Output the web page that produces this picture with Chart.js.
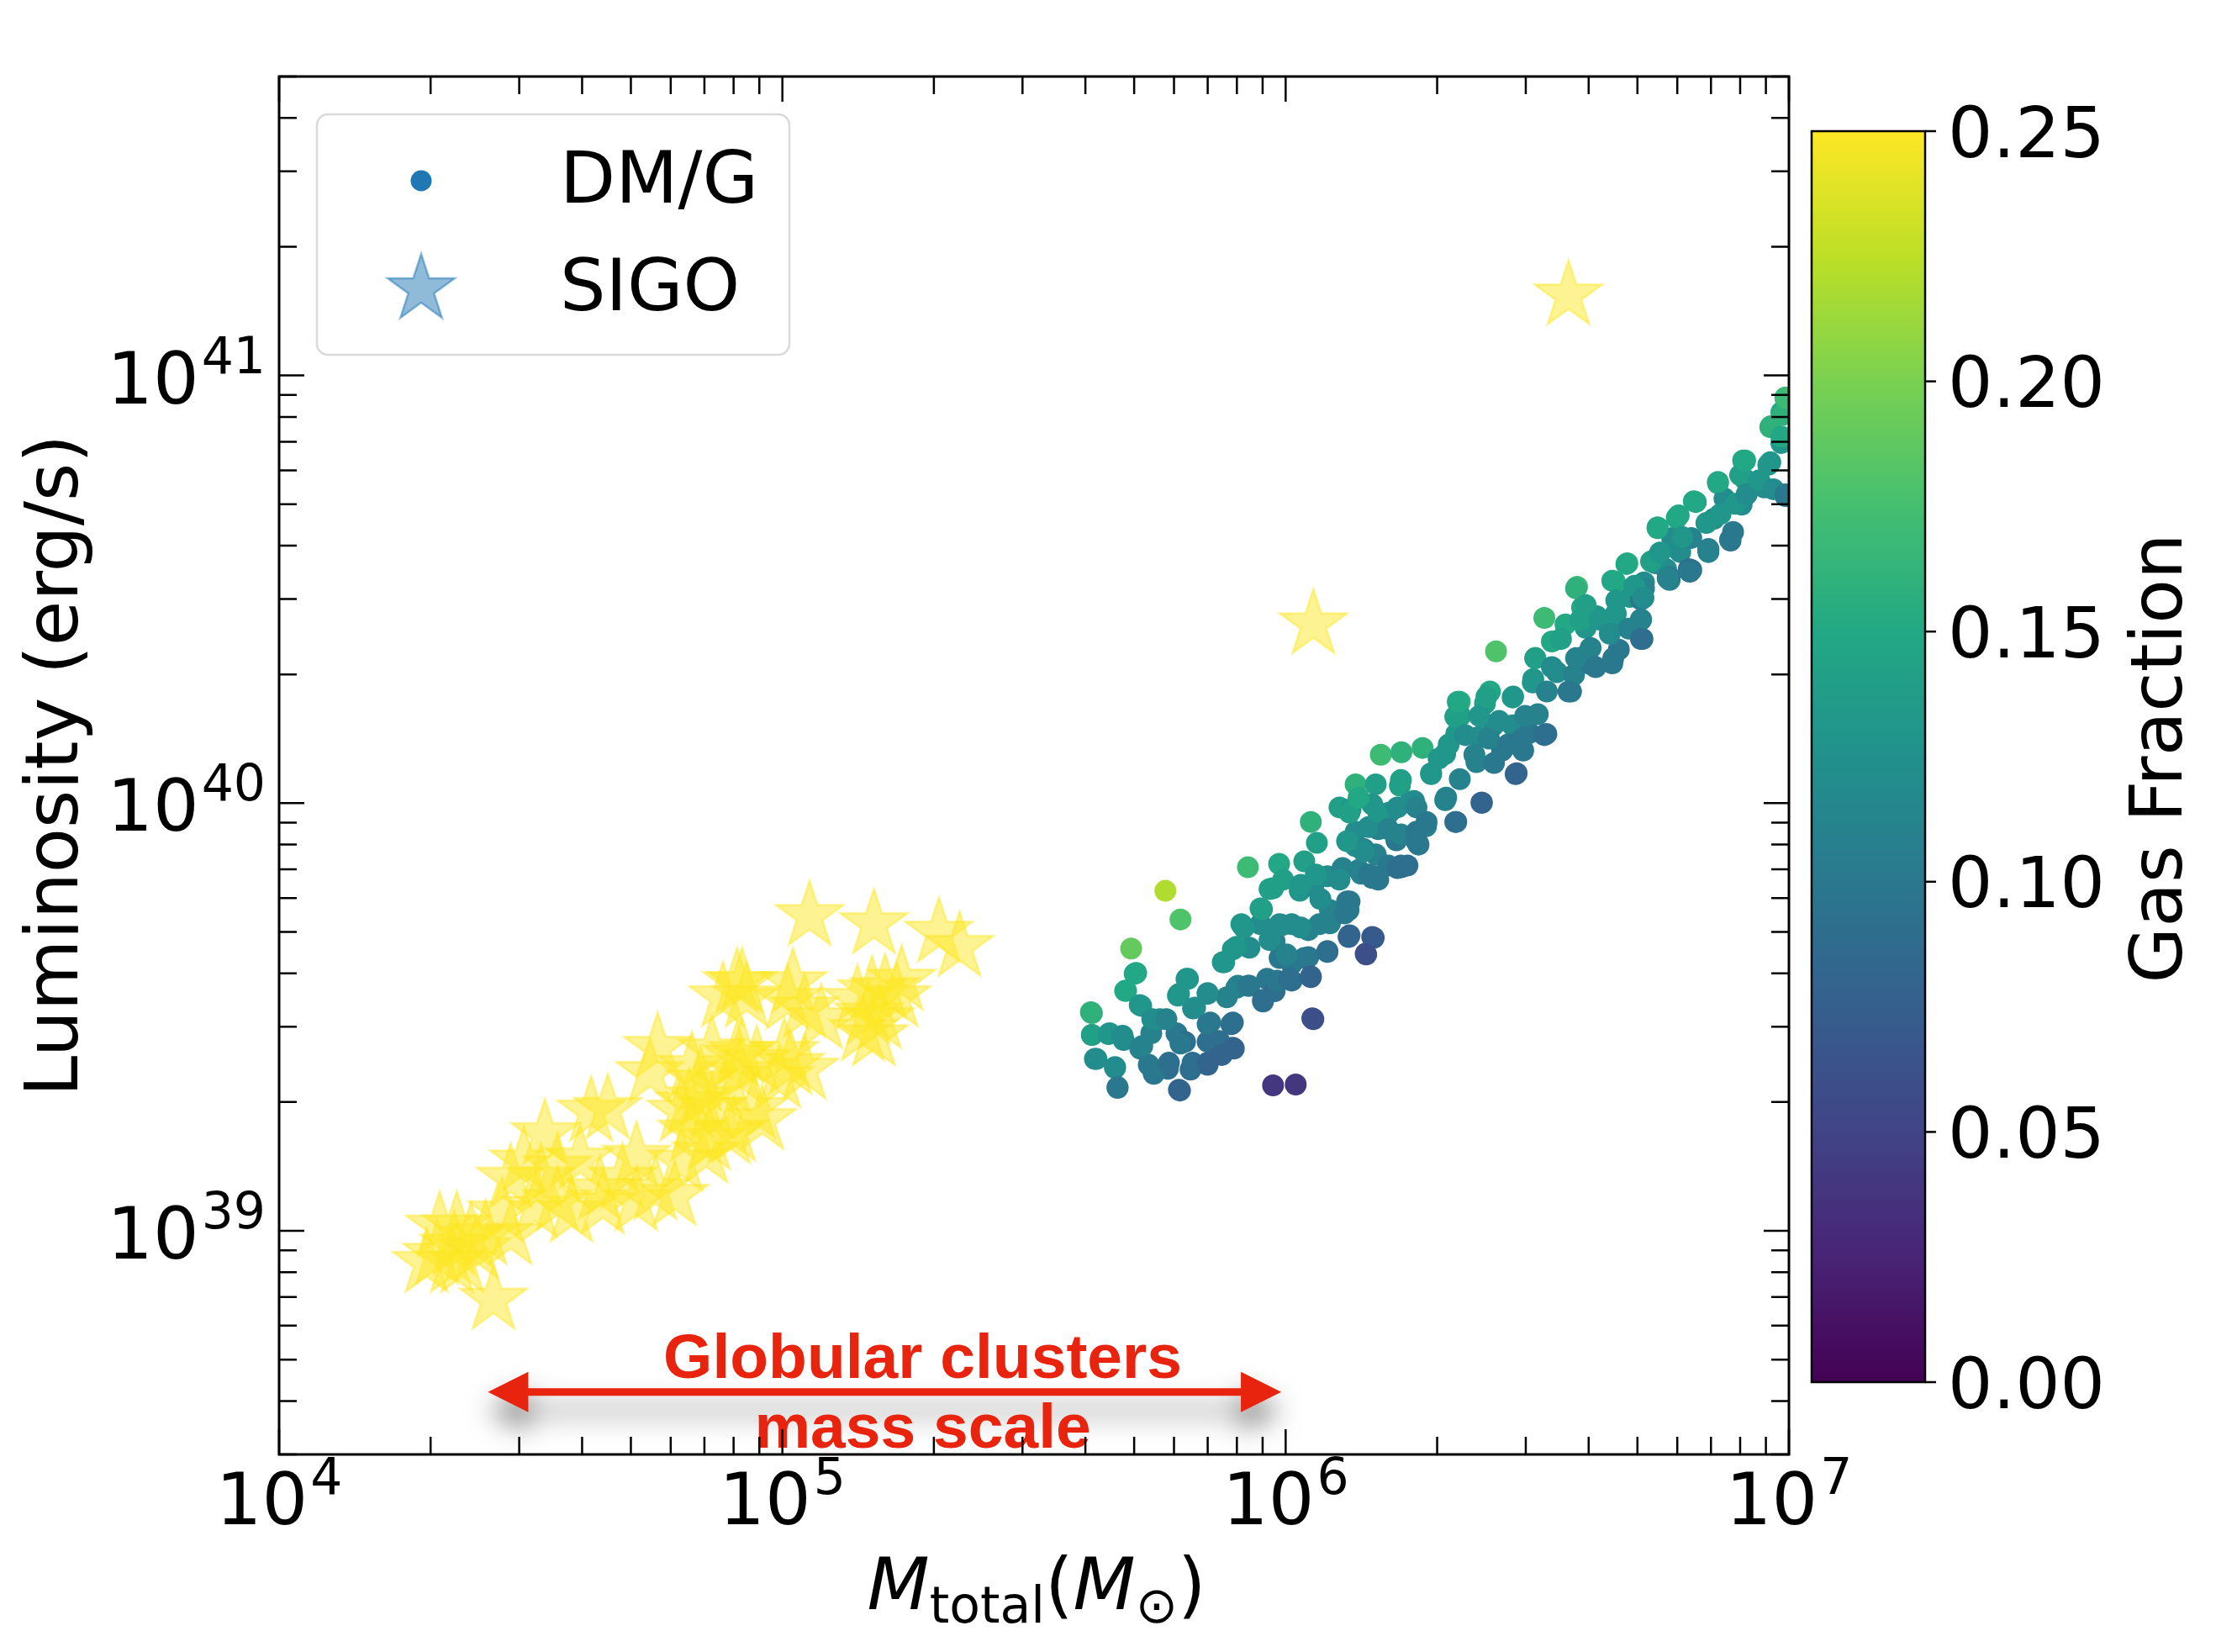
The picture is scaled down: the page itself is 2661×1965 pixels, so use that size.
<!DOCTYPE html>
<html>
<head>
<meta charset="utf-8">
<script src="https://cdn.jsdelivr.net/npm/chart.js@4/dist/chart.umd.min.js"></script>
<style>
  html, body { margin: 0; padding: 0; background: #fff; }
  #wrap { width: 2661px; height: 1965px; position: relative; }
</style>
</head>
<body>
<div id="wrap"><canvas id="chart"></canvas></div>
<script>
// DM/G halos: log10 of M_total, log10 of L, gas fraction
const dmgLogMass = [
  5.761, 5.791, 5.693, 5.925, 5.613, 5.703, 5.683, 5.713, 5.615, 5.650,
  5.678, 5.621, 5.661, 5.666, 5.711, 5.733, 5.750, 5.728, 5.738, 5.766,
  5.788, 5.783, 5.800, 5.811, 5.845, 5.788, 5.803, 5.816, 5.845, 5.850,
  5.845, 5.883, 5.895, 5.895, 5.870, 5.905, 5.928, 5.955, 5.963, 5.978,
  5.875, 5.895, 5.912, 5.928, 5.950, 5.953, 5.975, 5.987, 5.995, 5.978,
  5.988, 6.012, 5.988, 6.012, 6.037, 6.012, 6.050, 6.053, 5.975, 6.020,
  6.028, 6.037, 6.055, 6.045, 6.067, 6.083, 6.088, 6.083, 6.122, 6.125,
  6.125, 6.172, 6.159, 6.113, 6.150, 6.172, 6.179, 6.139, 6.230, 6.264,
  6.220, 6.062, 6.050, 6.107, 6.189, 6.230, 6.272, 6.139, 6.179, 6.229,
  6.129, 6.172, 6.206, 6.255, 6.139, 6.184, 6.229, 6.279, 6.262, 6.155,
  6.179, 6.229, 6.289, 6.317, 6.339, 6.389, 6.459, 6.346, 6.317, 6.339,
  6.337, 6.346, 6.384, 6.379, 6.396, 6.406, 6.413, 6.430, 6.418, 6.451,
  6.451, 6.472, 6.484, 6.501, 6.518, 6.492, 6.496, 6.514, 6.529, 6.539,
  6.556, 6.567, 6.573, 6.579, 6.589, 6.596, 6.596, 6.606, 6.618, 6.646,
  6.651, 6.662, 6.654, 6.656, 6.679, 6.684, 6.706, 6.709, 6.712, 6.734,
  6.756, 6.763, 6.806, 6.784, 6.840, 6.739, 6.781, 6.815, 6.859, 6.909,
  6.963, 6.993, 6.985, 6.963, 6.951, 6.993, 6.985, 6.913, 6.906, 6.872,
  6.889, 6.884, 6.851, 6.840, 6.806, 6.801, 6.768, 6.763, 6.734, 6.712,
  6.706,
  5.615, 5.615, 5.624, 5.648, 5.661, 5.666, 5.681, 5.676, 5.700, 5.710,
  5.715, 5.735, 5.738, 5.763, 5.768, 5.786, 5.791, 5.790, 5.806, 5.815,
  5.820, 5.845, 5.845, 5.845, 5.868, 5.873, 5.878, 5.892, 5.897, 5.902,
  5.902, 5.917, 5.925, 5.950, 5.955, 5.968, 5.968, 5.983, 5.993, 6.002,
  6.007, 6.030, 6.030, 6.045, 6.050, 6.055, 6.060, 6.069, 6.083, 6.088,
  6.107, 6.117, 6.127, 6.127, 6.145, 6.155, 6.165, 6.175, 6.160, 6.184,
  6.204, 6.222, 6.242, 6.127, 6.122, 6.145, 6.165, 6.184, 6.204, 6.222,
  6.227, 6.247, 6.260, 6.260, 6.280, 6.260, 6.289, 6.304, 6.319, 6.324,
  6.337, 6.347, 6.342, 6.357, 6.375, 6.385, 6.390, 6.399, 6.404, 6.414,
  6.424, 6.442, 6.452, 6.457, 6.471, 6.476, 6.491, 6.496, 6.514, 6.519,
  6.529, 6.547, 6.562, 6.577, 6.577, 6.586, 6.596, 6.606, 6.616, 6.624,
  6.644, 6.649, 6.649, 6.657, 6.677, 6.682, 6.693, 6.706, 6.711, 6.706,
  6.726, 6.739, 6.744, 6.759, 6.777, 6.788, 6.803, 6.811, 6.836, 6.840,
  6.859, 6.864, 6.883, 6.893, 6.903, 6.913, 6.916, 6.941, 6.959, 6.964,
  6.985, 6.969, 6.993, 6.988, 6.993
];
const dmgLogLum = [
  39.795, 39.728, 39.660, 39.850, 39.511, 39.603, 39.561, 39.526, 39.458, 39.462,
  39.446, 39.402, 39.383, 39.334, 39.426, 39.462, 39.495, 39.388, 39.367, 39.379,
  39.330, 39.462, 39.442, 39.377, 39.388, 39.554, 39.589, 39.520, 39.554, 39.487,
  39.442, 39.546, 39.487, 39.428, 39.416, 39.573, 39.573, 39.536, 39.589, 39.560,
  39.628, 39.658, 39.717, 39.662, 39.717, 39.752, 39.801, 39.858, 39.821, 39.677,
  39.717, 39.717, 39.638, 39.624, 39.638, 39.585, 39.593, 39.497, 39.340, 39.342,
  39.795, 39.864, 39.805, 39.703, 39.717, 39.654, 39.750, 39.829, 39.770, 39.687,
  39.750, 39.687, 39.648, 39.848, 39.835, 39.825, 39.880, 39.899, 39.850, 39.903,
  39.913, 39.907, 39.956, 39.990, 40.113, 40.119, 40.129, 40.044, 40.044, 40.054,
  39.986, 39.997, 39.978, 40.005, 39.933, 39.939, 39.927, 39.946, 39.907, 39.893,
  39.829, 39.854, 40.070, 40.007, 39.956, 40.001, 40.070, 40.056, 40.115, 40.162,
  40.202, 40.237, 40.155, 40.096, 40.233, 40.261, 40.182, 40.123, 40.355, 40.247,
  40.182, 40.123, 40.164, 40.208, 40.162, 40.290, 40.339, 40.433, 40.378, 40.306,
  40.418, 40.261, 40.300, 40.506, 40.457, 40.410, 40.345, 40.325, 40.437, 40.404,
  40.339, 40.359, 40.518, 40.443, 40.561, 40.482, 40.429, 40.384, 40.516, 40.567,
  40.547, 40.522, 40.545, 40.587, 40.587, 40.645, 40.673, 40.704, 40.748, 40.801,
  40.879, 40.948, 40.914, 40.797, 40.738, 40.718, 40.842, 40.757, 40.698, 40.712,
  40.634, 40.614, 40.665, 40.594, 40.620, 40.547, 40.620, 40.528, 40.561, 40.502,
  40.476,
  39.509, 39.458, 39.402, 39.460, 39.381, 39.336, 39.561, 39.456, 39.601, 39.528,
  39.432, 39.495, 39.369, 39.495, 39.393, 39.550, 39.438, 39.328, 39.589, 39.393,
  39.522, 39.556, 39.483, 39.393, 39.444, 39.411, 39.628, 39.483, 39.426, 39.664,
  39.568, 39.709, 39.573, 39.754, 39.540, 39.799, 39.680, 39.585, 39.715, 39.646,
  39.589, 39.809, 39.709, 39.640, 39.595, 39.495, 39.833, 39.776, 39.652, 39.719,
  39.821, 39.742, 39.691, 39.770, 39.844, 39.887, 39.833, 39.685, 39.646, 39.821,
  39.854, 39.848, 39.854, 39.978, 39.911, 40.013, 39.944, 39.978, 39.939, 39.990,
  40.041, 40.001, 39.933, 39.990, 39.956, 39.911, 40.068, 40.104, 40.013, 40.137,
  39.956, 40.204, 40.237, 40.159, 40.113, 40.204, 40.001, 40.249, 40.151, 40.094,
  40.192, 40.137, 40.249, 40.068, 40.151, 40.204, 40.282, 40.339, 40.159, 40.261,
  40.318, 40.384, 40.261, 40.502, 40.339, 40.429, 40.463, 40.363, 40.318, 40.429,
  40.396, 40.520, 40.327, 40.474, 40.559, 40.408, 40.508, 40.429, 40.480, 40.384,
  40.565, 40.643, 40.586, 40.526, 40.667, 40.622, 40.541, 40.706, 40.655, 40.592,
  40.751, 40.676, 40.616, 40.700, 40.767, 40.801, 40.722, 40.755, 40.791, 40.881,
  40.857, 40.734, 40.722, 40.908, 40.948
];
const dmgGas = [
  0.22, 0.18, 0.19, 0.17, 0.16, 0.15, 0.15, 0.13, 0.14, 0.13,
  0.12, 0.12, 0.12, 0.10, 0.11, 0.11, 0.12, 0.10, 0.10, 0.09,
  0.08, 0.10, 0.09, 0.09, 0.08, 0.13, 0.13, 0.12, 0.12, 0.10,
  0.09, 0.11, 0.09, 0.08, 0.08, 0.11, 0.10, 0.09, 0.10, 0.09,
  0.13, 0.13, 0.13, 0.12, 0.12, 0.14, 0.14, 0.15, 0.14, 0.11,
  0.12, 0.12, 0.10, 0.10, 0.10, 0.09, 0.08, 0.06, 0.04, 0.04,
  0.13, 0.14, 0.12, 0.11, 0.11, 0.09, 0.11, 0.12, 0.10, 0.08,
  0.10, 0.07, 0.06, 0.11, 0.11, 0.10, 0.11, 0.12, 0.09, 0.10,
  0.10, 0.14, 0.16, 0.14, 0.17, 0.16, 0.16, 0.16, 0.14, 0.14,
  0.13, 0.13, 0.12, 0.12, 0.12, 0.11, 0.11, 0.11, 0.10, 0.11,
  0.10, 0.09, 0.13, 0.11, 0.09, 0.08, 0.08, 0.11, 0.13, 0.13,
  0.14, 0.16, 0.12, 0.11, 0.14, 0.15, 0.12, 0.10, 0.18, 0.13,
  0.12, 0.10, 0.10, 0.11, 0.09, 0.13, 0.14, 0.17, 0.15, 0.12,
  0.15, 0.10, 0.11, 0.17, 0.15, 0.13, 0.11, 0.10, 0.13, 0.12,
  0.10, 0.10, 0.15, 0.13, 0.16, 0.13, 0.10, 0.09, 0.12, 0.13,
  0.12, 0.11, 0.10, 0.12, 0.11, 0.15, 0.15, 0.15, 0.15, 0.15,
  0.16, 0.17, 0.15, 0.13, 0.12, 0.09, 0.13, 0.13, 0.12, 0.12,
  0.10, 0.09, 0.12, 0.10, 0.11, 0.09, 0.12, 0.10, 0.12, 0.11,
  0.10,
  0.16, 0.14, 0.12, 0.13, 0.12, 0.10, 0.15, 0.12, 0.15, 0.13,
  0.11, 0.12, 0.10, 0.11, 0.09, 0.13, 0.10, 0.08, 0.13, 0.09,
  0.12, 0.12, 0.10, 0.08, 0.09, 0.08, 0.13, 0.09, 0.08, 0.13,
  0.11, 0.13, 0.10, 0.14, 0.09, 0.14, 0.12, 0.10, 0.12, 0.11,
  0.09, 0.13, 0.12, 0.10, 0.08, 0.06, 0.13, 0.12, 0.09, 0.11,
  0.12, 0.10, 0.08, 0.10, 0.11, 0.12, 0.10, 0.07, 0.06, 0.10,
  0.10, 0.09, 0.09, 0.14, 0.13, 0.15, 0.12, 0.13, 0.11, 0.12,
  0.14, 0.12, 0.10, 0.11, 0.10, 0.10, 0.13, 0.13, 0.11, 0.13,
  0.09, 0.14, 0.15, 0.12, 0.11, 0.13, 0.08, 0.14, 0.11, 0.10,
  0.12, 0.10, 0.13, 0.08, 0.10, 0.11, 0.13, 0.14, 0.09, 0.11,
  0.12, 0.14, 0.10, 0.16, 0.11, 0.14, 0.14, 0.11, 0.10, 0.13,
  0.12, 0.15, 0.10, 0.13, 0.15, 0.11, 0.13, 0.11, 0.12, 0.09,
  0.14, 0.15, 0.13, 0.11, 0.15, 0.13, 0.10, 0.15, 0.13, 0.11,
  0.15, 0.13, 0.10, 0.13, 0.14, 0.15, 0.12, 0.13, 0.13, 0.16,
  0.15, 0.12, 0.10, 0.16, 0.17
];

// SIGO objects (all at the top of the colour scale)
const sigoLogMass = [
  4.752, 4.620, 4.653, 4.528, 4.737, 4.820, 4.837, 4.799, 4.910, 4.915,
  4.882, 4.920, 4.854, 4.904, 4.710, 4.682, 4.748, 4.637, 4.598, 4.553,
  4.520, 4.486, 4.460, 4.510, 4.443, 4.553, 4.581, 4.643, 4.710, 4.319,
  4.353, 4.348, 4.314, 4.381, 4.364, 4.343, 4.293, 4.393, 4.426, 4.410,
  4.460,
  5.054, 5.182, 5.311, 5.352, 4.910, 4.929, 5.021, 5.010, 5.044, 5.077,
  5.149, 5.178, 5.204, 5.237, 5.227, 5.171, 5.194, 5.160, 5.182, 4.860,
  4.920, 4.949, 5.004, 5.016, 5.044, 4.994, 4.837, 4.894, 4.815, 4.860,
  4.944, 4.960, 4.820, 4.894, 4.849, 4.799, 4.786,
  6.055, 6.562
];
const sigoLogLum = [
  39.428, 39.279, 39.285, 39.226, 39.369, 39.383, 39.310, 39.279, 39.408, 39.369,
  39.546, 39.579, 39.212, 39.232, 39.173, 39.122, 39.095, 39.095, 39.167, 39.148,
  39.122, 39.162, 39.122, 39.054, 39.043, 39.069, 39.043, 39.062, 39.069, 39.010,
  39.010, 38.965, 38.944, 38.984, 38.925, 38.925, 38.925, 38.957, 38.839, 38.990,
  38.990,
  39.736, 39.717, 39.697, 39.664, 39.579, 39.546, 39.579, 39.540, 39.520, 39.495,
  39.540, 39.560, 39.565, 39.585, 39.546, 39.506, 39.495, 39.467, 39.455, 39.422,
  39.416, 39.397, 39.416, 39.388, 39.377, 39.357, 39.349, 39.344, 39.298, 39.285,
  39.285, 39.259, 39.232, 39.226, 39.181, 39.162, 39.082,
  40.418, 41.187
];

const xRange = [1e4, 1e7];
const yRange = [3e38, 5e41];
const gasMax = 0.25;
const cbTicks = [0.00, 0.05, 0.10, 0.15, 0.20, 0.25];

// "Globular clusters mass scale" arrow
const gcArrowMass = [2.6e4, 9.8e5];
const gcArrowLum = 4.2e38;
const gcLabelMass = 1.9e5;

const FONT = '"DejaVu Sans", sans-serif';

const viridisStops = ['#440154', '#482475', '#414487', '#355f8d', '#2a788e', '#21918c',
  '#22a884', '#44bf70', '#7ad151', '#bddf26', '#fde725'].map(h =>
  [parseInt(h.slice(1, 3), 16), parseInt(h.slice(3, 5), 16), parseInt(h.slice(5, 7), 16)]);

function viridis(t, a) {
  t = Math.max(0, Math.min(1, t));
  const p = t * (viridisStops.length - 1);
  const i = Math.min(Math.floor(p), viridisStops.length - 2);
  const f = p - i;
  const c = viridisStops[i].map((v, k) => Math.round(v + (viridisStops[i + 1][k] - v) * f));
  return a === undefined ? `rgb(${c.join(',')})` : `rgba(${c.join(',')},${a})`;
}

function starPath(ctx, cx, cy, R) {
  ctx.beginPath();
  for (let k = 0; k < 10; k++) {
    const r = k % 2 ? R * 0.381966 : R;
    const ang = -Math.PI / 2 + k * Math.PI / 5;
    const px = cx + r * Math.cos(ang), py = cy + r * Math.sin(ang);
    if (k === 0) ctx.moveTo(px, py); else ctx.lineTo(px, py);
  }
  ctx.closePath();
}

function makeStar(R, fill, stroke, lw) {
  const size = Math.ceil(2 * R + 2 * lw + 4);
  const c = document.createElement('canvas');
  c.width = size; c.height = size;
  const g = c.getContext('2d');
  starPath(g, size / 2, size / 2, R);
  g.fillStyle = fill; g.fill();
  g.strokeStyle = stroke; g.lineWidth = lw; g.stroke();
  return c;
}

const starR = 42;
const sigoStar = makeStar(starR, viridis(1, 0.5), viridis(1, 0.5), 2.5);

const dmgPoints = dmgLogMass.map((m, i) => ({ x: 10 ** m, y: 10 ** dmgLogLum[i] }));
const sigoPoints = sigoLogMass.map((m, i) => ({ x: 10 ** m, y: 10 ** sigoLogLum[i] }));

function logTicks(min, max) {
  const out = [];
  for (let d = Math.floor(Math.log10(min)); d <= Math.ceil(Math.log10(max)); d++) {
    for (let m = 1; m <= 9; m++) {
      const v = m * 10 ** d;
      if (v >= min * 0.999 && v <= max * 1.001) out.push({ v, major: m === 1, exp: d });
    }
  }
  return out;
}

// 10^n label: base "10" plus a raised exponent
function drawPow(ctx, exp, x, y, align) {
  ctx.font = '86px ' + FONT;
  const wb = ctx.measureText('10').width;
  ctx.font = '60px ' + FONT;
  const ws = ctx.measureText(String(exp)).width;
  const total = wb + 3 + ws;
  const x0 = align === 'right' ? x - total : x - total / 2;
  ctx.textAlign = 'left';
  ctx.textBaseline = 'alphabetic';
  ctx.font = '86px ' + FONT;
  ctx.fillText('10', x0, y);
  ctx.font = '60px ' + FONT;
  ctx.fillText(String(exp), x0 + wb + 3, y - 36);
}

const decorations = {
  id: 'decorations',
  afterDatasetsDraw(chart) {
    const ctx = chart.ctx;
    const a = chart.chartArea;
    const xs = chart.scales.x, ys = chart.scales.y;
    ctx.save();

    // annotation arrow with drop shadow
    const ax0 = xs.getPixelForValue(gcArrowMass[0]);
    const ax1 = xs.getPixelForValue(gcArrowMass[1]);
    const ay = ys.getPixelForValue(gcArrowLum);
    const red = '#e8240f';
    ctx.save();
    ctx.shadowColor = 'rgba(0,0,0,0.5)';
    ctx.shadowBlur = 32;
    ctx.shadowOffsetY = 22;
    ctx.fillStyle = red;
    const hl = 48, hw = 24, sw = 4.5;
    ctx.beginPath();
    ctx.moveTo(ax0, ay);
    ctx.lineTo(ax0 + hl, ay - hw);
    ctx.lineTo(ax0 + hl, ay - sw);
    ctx.lineTo(ax1 - hl, ay - sw);
    ctx.lineTo(ax1 - hl, ay - hw);
    ctx.lineTo(ax1, ay);
    ctx.lineTo(ax1 - hl, ay + hw);
    ctx.lineTo(ax1 - hl, ay + sw);
    ctx.lineTo(ax0 + hl, ay + sw);
    ctx.lineTo(ax0 + hl, ay + hw);
    ctx.closePath();
    ctx.fill();
    ctx.restore();

    const lx = xs.getPixelForValue(gcLabelMass);
    ctx.fillStyle = red;
    ctx.font = 'bold 75px "Liberation Sans", Arial, sans-serif';
    ctx.textAlign = 'center';
    ctx.textBaseline = 'alphabetic';
    ctx.fillText('Globular clusters', lx, ay - 17);
    ctx.fillText('mass scale', lx, ay + 66);

    // frame and inward ticks on all four sides
    ctx.strokeStyle = '#000';
    ctx.lineWidth = 2.5;
    for (const t of logTicks(xRange[0], xRange[1])) {
      const px = xs.getPixelForValue(t.v);
      const len = t.major ? 30 : 21;
      ctx.beginPath();
      ctx.moveTo(px, a.bottom); ctx.lineTo(px, a.bottom - len);
      ctx.moveTo(px, a.top); ctx.lineTo(px, a.top + len);
      ctx.stroke();
    }
    for (const t of logTicks(yRange[0], yRange[1])) {
      const py = ys.getPixelForValue(t.v);
      const len = t.major ? 30 : 21;
      ctx.beginPath();
      ctx.moveTo(a.left, py); ctx.lineTo(a.left + len, py);
      ctx.moveTo(a.right, py); ctx.lineTo(a.right - len, py);
      ctx.stroke();
    }
    ctx.lineWidth = 3;
    ctx.strokeRect(a.left, a.top, a.right - a.left, a.bottom - a.top);

    // tick labels
    ctx.fillStyle = '#000';
    for (const t of logTicks(xRange[0], xRange[1])) {
      if (!t.major) continue;
      drawPow(ctx, t.exp, xs.getPixelForValue(t.v), a.bottom + 83, 'center');
    }
    for (const t of logTicks(yRange[0], yRange[1])) {
      if (!t.major) continue;
      drawPow(ctx, t.exp, a.left - 16, ys.getPixelForValue(t.v) + 33, 'right');
    }

    // axis titles
    ctx.save();
    ctx.translate(92, (a.top + a.bottom) / 2);
    ctx.rotate(-Math.PI / 2);
    ctx.font = '87px ' + FONT;
    ctx.textAlign = 'center';
    ctx.textBaseline = 'alphabetic';
    ctx.fillText('Luminosity (erg/s)', 0, 0);
    ctx.restore();

    const parts = [
      { t: 'M', f: 'italic 86px ' + FONT, dy: 0 },
      { t: 'total', f: '60px ' + FONT, dy: 16 },
      { t: '(', f: '86px ' + FONT, dy: 0 },
      { t: 'M', f: 'italic 86px ' + FONT, dy: 0 },
      { t: '\u2299', f: '60px ' + FONT, dy: 16 },
      { t: ')', f: '86px ' + FONT, dy: 0 }
    ];
    let tw = 0;
    for (const p of parts) { ctx.font = p.f; p.w = ctx.measureText(p.t).width; tw += p.w; }
    let cx = 1233 - tw / 2;
    ctx.textAlign = 'left';
    for (const p of parts) {
      ctx.font = p.f;
      ctx.fillText(p.t, cx, 1914 + p.dy);
      cx += p.w;
    }

    // legend
    const lg = { x: 377, y: 136, w: 562, h: 286, r: 13 };
    ctx.beginPath();
    ctx.roundRect(lg.x, lg.y, lg.w, lg.h, lg.r);
    ctx.fillStyle = 'rgba(255,255,255,0.8)';
    ctx.fill();
    ctx.strokeStyle = '#d9d9d9';
    ctx.lineWidth = 2.5;
    ctx.stroke();
    ctx.fillStyle = '#1f77b4';
    ctx.beginPath();
    ctx.arc(501, 215, 12.5, 0, Math.PI * 2);
    ctx.fill();
    starPath(ctx, 501, 344, starR);
    ctx.fillStyle = 'rgba(31,119,180,0.5)';
    ctx.fill();
    ctx.strokeStyle = 'rgba(31,119,180,0.5)';
    ctx.lineWidth = 2.5;
    ctx.stroke();
    ctx.fillStyle = '#000';
    ctx.font = '86px ' + FONT;
    ctx.textAlign = 'left';
    ctx.fillText('DM/G', 666, 241);
    ctx.fillText('SIGO', 666, 369);

    // colour bar
    const cb = { l: 2155, r: 2290, t: 156, b: 1644 };
    const grad = ctx.createLinearGradient(0, cb.b, 0, cb.t);
    viridisStops.forEach((c, i) => grad.addColorStop(i / (viridisStops.length - 1), `rgb(${c.join(',')})`));
    ctx.fillStyle = grad;
    ctx.fillRect(cb.l, cb.t, cb.r - cb.l, cb.b - cb.t);
    ctx.strokeStyle = '#000';
    ctx.lineWidth = 2.5;
    ctx.strokeRect(cb.l, cb.t, cb.r - cb.l, cb.b - cb.t);
    ctx.fillStyle = '#000';
    ctx.font = '84px ' + FONT;
    ctx.textAlign = 'left';
    for (const v of cbTicks) {
      const py = cb.b - (v / gasMax) * (cb.b - cb.t);
      ctx.beginPath();
      ctx.moveTo(cb.r, py); ctx.lineTo(cb.r + 13, py);
      ctx.stroke();
      ctx.fillText(v.toFixed(2), 2317, py + 30.5);
    }
    ctx.save();
    ctx.translate(2595, 902);
    ctx.rotate(-Math.PI / 2);
    ctx.font = '86px ' + FONT;
    ctx.textAlign = 'center';
    ctx.fillText('Gas Fraction', 0, 0);
    ctx.restore();

    ctx.restore();
  }
};

new Chart(document.getElementById('chart'), {
  type: 'scatter',
  data: {
    datasets: [
      {
        label: 'DM/G',
        data: dmgPoints,
        pointRadius: 13,
        pointBackgroundColor: dmgGas.map(g => viridis(g / gasMax)),
        pointBorderWidth: 0,
        pointBorderColor: 'rgba(0,0,0,0)',
        clip: 0
      },
      {
        label: 'SIGO',
        data: sigoPoints,
        pointStyle: sigoStar,
        pointRadius: starR,
        clip: 0
      }
    ]
  },
  options: {
    responsive: true,
    maintainAspectRatio: false,
    devicePixelRatio: 1,
    animation: false,
    events: [],
    layout: { padding: { left: 332, top: 91, right: 533, bottom: 235 } },
    scales: {
      x: { type: 'logarithmic', min: xRange[0], max: xRange[1], display: false },
      y: { type: 'logarithmic', min: yRange[0], max: yRange[1], display: false }
    },
    plugins: {
      legend: { display: false },
      tooltip: { enabled: false }
    }
  },
  plugins: [decorations]
});
</script>
</body>
</html>
